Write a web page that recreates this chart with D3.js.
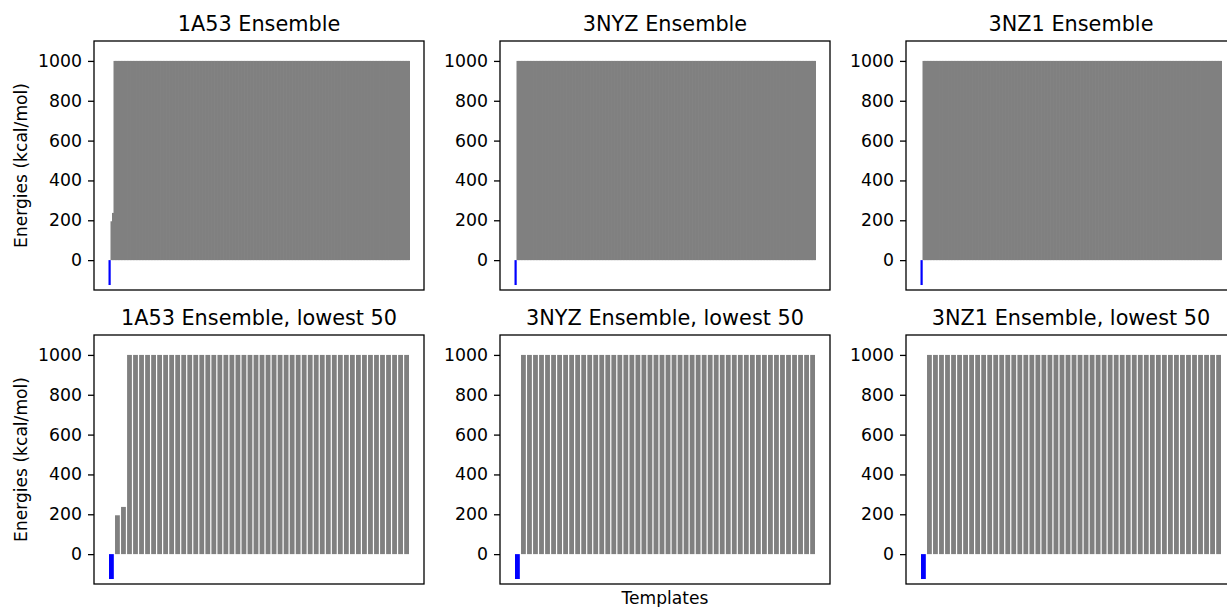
<!DOCTYPE html>
<html>
<head>
<meta charset="utf-8">
<title>Ensemble energies</title>
<script src="https://cdn.jsdelivr.net/npm/d3@7"></script>
<style>
  body { margin: 0; background: #fff; }
  text { font-family: "DejaVu Sans", sans-serif; fill: #000; }
</style>
</head>
<body>
<div id="chart"></div>
<script>
// ensemble names and panel titles
var ensembles = ["1A53", "3NYZ", "3NZ1"];
var yTicks = [0, 200, 400, 600, 800, 1000];

// lowest 50 energies per ensemble (kcal/mol)
var lowest1A53 = [-125, 195, 237, 1000, 1000, 1000, 1000, 1000, 1000, 1000,
  1000, 1000, 1000, 1000, 1000, 1000, 1000, 1000, 1000, 1000,
  1000, 1000, 1000, 1000, 1000, 1000, 1000, 1000, 1000, 1000,
  1000, 1000, 1000, 1000, 1000, 1000, 1000, 1000, 1000, 1000,
  1000, 1000, 1000, 1000, 1000, 1000, 1000, 1000, 1000, 1000];
var lowest3NYZ = [-125, 1000, 1000, 1000, 1000, 1000, 1000, 1000, 1000, 1000,
  1000, 1000, 1000, 1000, 1000, 1000, 1000, 1000, 1000, 1000,
  1000, 1000, 1000, 1000, 1000, 1000, 1000, 1000, 1000, 1000,
  1000, 1000, 1000, 1000, 1000, 1000, 1000, 1000, 1000, 1000,
  1000, 1000, 1000, 1000, 1000, 1000, 1000, 1000, 1000, 1000];
var lowest3NZ1 = [-125, 1000, 1000, 1000, 1000, 1000, 1000, 1000, 1000, 1000,
  1000, 1000, 1000, 1000, 1000, 1000, 1000, 1000, 1000, 1000,
  1000, 1000, 1000, 1000, 1000, 1000, 1000, 1000, 1000, 1000,
  1000, 1000, 1000, 1000, 1000, 1000, 1000, 1000, 1000, 1000,
  1000, 1000, 1000, 1000, 1000, 1000, 1000, 1000, 1000, 1000];

// the rest of each full ensemble (about 150 more templates) sits at the 1000 cap
var ensembleSize = 200;
var energyCap = 1000;
function fullEnsemble(lowest) {
  var rest = [];
  for (var i = lowest.length; i < ensembleSize; i++) rest.push(energyCap);
  return lowest.concat(rest);
}

var lowestSets = [lowest1A53, lowest3NYZ, lowest3NZ1];

var W = 1227, H = 607;
var svg = d3.select("#chart").append("svg")
  .attr("width", W).attr("height", H);

// axes boxes (third column runs past the right edge, like the original)
var colX = [94, 500, 906], rowY = [41, 335];
var pw = 330, ph = 249;

function drawPanel(col, row, values, title) {
  var g = svg.append("g").attr("transform", "translate(" + colX[col] + "," + rowY[row] + ")");
  var n = values.length;
  var span = (n - 1) + 0.8;
  var x = d3.scaleLinear()
    .domain([-0.4 - 0.05 * span, n - 1 + 0.4 + 0.05 * span])
    .range([0, pw]);
  var y = d3.scaleLinear().domain([-150, 1100]).range([ph, 0]);
  // with ~200 bars the gaps vanish at this size; overlap them a pixel so it reads solid
  var dense = n > 100;
  var extra = dense ? 1 : 0;

  // gray bars first, the blue (lowest) one on top
  g.append("g").selectAll("rect.bar").data(values.slice(1)).enter().append("rect")
    .attr("class", "bar")
    .attr("x", function (d, i) { return x(i + 1 - 0.4); })
    .attr("width", function (d, i) { return x(i + 1 + 0.4) - x(i + 1 - 0.4) + extra; })
    .attr("y", function (d) { return y(Math.max(0, d)); })
    .attr("height", function (d) { return Math.abs(y(d) - y(0)); })
    .attr("fill", "#808080");

  g.append("rect")
    .attr("x", x(-0.4) - extra / 2)
    .attr("width", x(0.4) - x(-0.4) + extra)
    .attr("y", y(Math.max(0, values[0])))
    .attr("height", Math.abs(y(values[0]) - y(0)))
    .attr("fill", "#0000ff");

  // y axis
  var ax = g.append("g").call(d3.axisLeft(y).tickValues(yTicks)
    .tickFormat(d3.format("d")).tickSize(6).tickPadding(6));
  ax.select(".domain").remove();
  ax.selectAll("line").attr("stroke", "#000").attr("stroke-width", 1.3);
  ax.selectAll("text").style("font-size", "17.3px").style("font-family", "DejaVu Sans, sans-serif");

  // frame
  g.append("rect").attr("x", 0).attr("y", 0).attr("width", pw).attr("height", ph)
    .attr("fill", "none").attr("stroke", "#000").attr("stroke-width", 1.3);

  g.append("text")
    .attr("x", pw / 2).attr("y", -10)
    .attr("text-anchor", "middle")
    .style("font-size", "20.8px")
    .text(title);
}

ensembles.forEach(function (name, c) {
  drawPanel(c, 0, fullEnsemble(lowestSets[c]), name + " Ensemble");
  drawPanel(c, 1, lowestSets[c], name + " Ensemble, lowest 50");
});

// y labels on the left column
rowY.forEach(function (ry) {
  svg.append("text")
    .attr("transform", "translate(27," + (ry + ph / 2) + ") rotate(-90)")
    .attr("text-anchor", "middle")
    .style("font-size", "17.1px")
    .text("Energies (kcal/mol)");
});

svg.append("text")
  .attr("x", colX[1] + pw / 2).attr("y", 604)
  .attr("text-anchor", "middle")
  .style("font-size", "17.1px")
  .text("Templates");
</script>
</body>
</html>
